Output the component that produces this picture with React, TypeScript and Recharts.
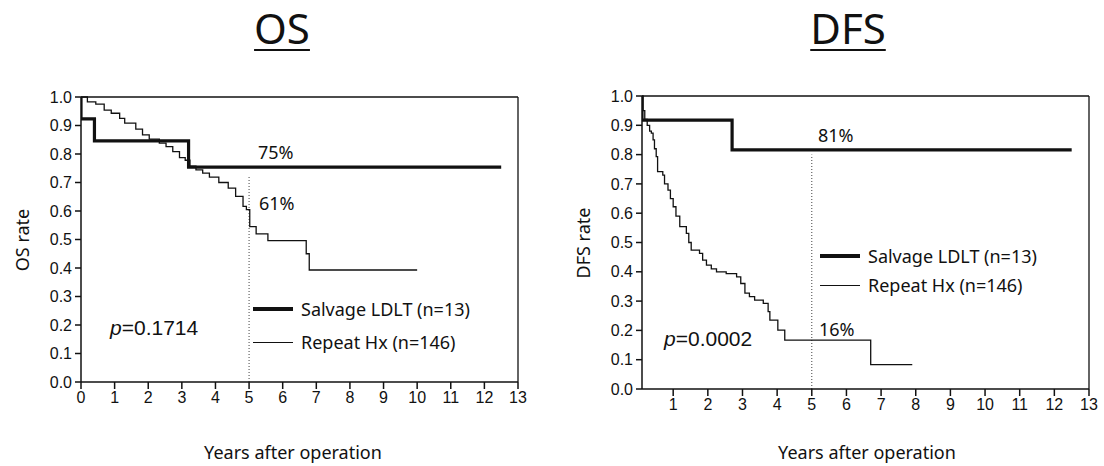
import React from "react";
import { LineChart, Line, XAxis, YAxis, ReferenceLine } from "recharts";

// Kaplan-Meier points: t = years, s = survival after t
const osLdlt = [
  { t: 0, s: 1.0 }, { t: 0, s: 0.923 }, { t: 0.4, s: 0.846 }, { t: 3.2, s: 0.754 }, { t: 12.5, s: 0.754 },
];
const osRepeat = [
  { t: 0, s: 1.0 }, { t: 0.19, s: 0.983 }, { t: 0.44, s: 0.975 }, { t: 0.69, s: 0.954 },
  { t: 0.9, s: 0.943 }, { t: 1.15, s: 0.925 }, { t: 1.3, s: 0.908 }, { t: 1.63, s: 0.887 },
  { t: 1.83, s: 0.867 }, { t: 2.03, s: 0.852 }, { t: 2.33, s: 0.838 }, { t: 2.53, s: 0.826 },
  { t: 2.73, s: 0.808 }, { t: 2.93, s: 0.787 }, { t: 3.1, s: 0.778 }, { t: 3.24, s: 0.757 },
  { t: 3.42, s: 0.744 }, { t: 3.62, s: 0.733 }, { t: 3.82, s: 0.719 }, { t: 4.1, s: 0.7 },
  { t: 4.38, s: 0.68 }, { t: 4.6, s: 0.651 }, { t: 4.82, s: 0.616 }, { t: 4.92, s: 0.605 },
  { t: 5.02, s: 0.545 }, { t: 5.21, s: 0.52 }, { t: 5.56, s: 0.496 }, { t: 6.7, s: 0.45 },
  { t: 6.79, s: 0.393 }, { t: 10, s: 0.393 },
];
const dfsLdlt = [
  { t: 0.1, s: 1.0 }, { t: 0.1, s: 0.918 }, { t: 2.7, s: 0.816 }, { t: 12.5, s: 0.816 },
];
const dfsRepeat = [
  { t: 0.1, s: 1.0 }, { t: 0.13, s: 0.95 }, { t: 0.18, s: 0.92 }, { t: 0.25, s: 0.9 },
  { t: 0.32, s: 0.88 }, { t: 0.37, s: 0.873 }, { t: 0.42, s: 0.85 }, { t: 0.46, s: 0.82 },
  { t: 0.51, s: 0.793 }, { t: 0.55, s: 0.742 }, { t: 0.7, s: 0.73 }, { t: 0.75, s: 0.7 },
  { t: 0.85, s: 0.679 }, { t: 0.92, s: 0.65 }, { t: 1.0, s: 0.622 }, { t: 1.08, s: 0.59 },
  { t: 1.19, s: 0.554 }, { t: 1.38, s: 0.531 }, { t: 1.45, s: 0.5 }, { t: 1.52, s: 0.474 },
  { t: 1.76, s: 0.463 }, { t: 1.85, s: 0.44 }, { t: 1.96, s: 0.423 }, { t: 2.1, s: 0.41 },
  { t: 2.25, s: 0.4 }, { t: 2.53, s: 0.394 }, { t: 2.83, s: 0.383 }, { t: 2.95, s: 0.36 },
  { t: 3.07, s: 0.327 }, { t: 3.2, s: 0.315 }, { t: 3.35, s: 0.303 }, { t: 3.6, s: 0.292 },
  { t: 3.74, s: 0.264 }, { t: 3.79, s: 0.235 }, { t: 4.02, s: 0.201 }, { t: 4.22, s: 0.167 },
  { t: 6.7, s: 0.083 }, { t: 7.9, s: 0.083 },
];

const seriesNames = ["Salvage LDLT (n=13)", "Repeat Hx (n=146)"];
const yTicks = [0, 0.1, 0.2, 0.3, 0.4, 0.5, 0.6, 0.7, 0.8, 0.9, 1.0];
const osXTicks = [0, 1, 2, 3, 4, 5, 6, 7, 8, 9, 10, 11, 12, 13];
const dfsXTicks = [1, 2, 3, 4, 5, 6, 7, 8, 9, 10, 11, 12, 13];

const INK = "#111";
const HAND = "'Noto Sans', 'DejaVu Sans', sans-serif";
const ARIAL = "'Liberation Sans', Arial, sans-serif";

const tickStyle = { fill: INK, fontSize: 16, fontFamily: ARIAL };

function Txt({ x, y, children, size = 18, left = false, rotate = false, font = HAND, style = {} }: any) {
  return (
    <div
      style={{
        position: "absolute",
        left: x,
        top: y,
        transform: `translate(${left ? "0" : "-50%"}, -50%)${rotate ? " rotate(-90deg)" : ""}`,
        fontSize: size,
        fontFamily: font,
        color: INK,
        whiteSpace: "nowrap",
        lineHeight: 1,
        ...style,
      }}
    >
      {children}
    </div>
  );
}

function LegendRows({ x, y1, y2 }: { x: number; y1: number; y2: number }) {
  return (
    <>
      <div style={{ position: "absolute", left: x, top: y1 - 2, width: 40, height: 4, background: INK }} />
      <Txt x={x + 48} y={y1} left>{seriesNames[0]}</Txt>
      <div style={{ position: "absolute", left: x, top: y2, width: 40, height: 1.3, background: INK }} />
      <Txt x={x + 48} y={y2} left>{seriesNames[1]}</Txt>
    </>
  );
}

function KmChart({ thick, thin, xTicks, xMin, dotTop, margin, height }: any) {
  return (
    <LineChart width={552} height={height} margin={margin} style={{ fontFamily: ARIAL, fontSize: 16 }}>
      <XAxis
        type="number"
        dataKey="t"
        domain={[xMin, 13]}
        ticks={xTicks}
        allowDataOverflow
        height={30}
        tickSize={7}
        tickMargin={3}
        fontSize={16}
        tick={tickStyle}
        axisLine={{ stroke: INK, strokeWidth: 1.5 }}
        tickLine={{ stroke: INK, strokeWidth: 1.5 }}
      />
      <YAxis
        type="number"
        domain={[0, 1]}
        ticks={yTicks}
        width={50}
        tickSize={6}
        tickMargin={3}
        fontSize={16}
        tickFormatter={(v: number) => v.toFixed(1)}
        tick={tickStyle}
        axisLine={{ stroke: INK, strokeWidth: 1.5 }}
        tickLine={{ stroke: INK, strokeWidth: 1.5 }}
      />
      <ReferenceLine y={1} stroke={INK} strokeWidth={1.3} />
      <ReferenceLine x={13} stroke={INK} strokeWidth={1.3} />
      <ReferenceLine
        segment={[{ x: 5, y: 0 }, { x: 5, y: dotTop }]}
        stroke={INK}
        strokeWidth={0.8}
        strokeDasharray="1 2"
      />
      <Line data={thin} dataKey="s" type="stepAfter" stroke={INK} strokeWidth={1.3} dot={false} isAnimationActive={false} />
      <Line data={thick} dataKey="s" type="stepAfter" stroke={INK} strokeWidth={3.2} dot={false} isAnimationActive={false} />
    </LineChart>
  );
}

export default function App() {
  return (
    <div style={{ position: "absolute", left: 0, top: 0, width: 1104, height: 466, background: "#fff", overflow: "hidden" }}>
      <div style={{ position: "absolute", left: 0, top: 0 }}>
        <KmChart
          thick={osLdlt}
          thin={osRepeat}
          xTicks={osXTicks}
          xMin={0}
          dotTop={0.72}
          height={466}
          margin={{ top: 97, right: 34, bottom: 54, left: 31 }}
        />
      </div>
      <div style={{ position: "absolute", left: 552, top: 0 }}>
        <KmChart
          thick={dfsLdlt}
          thin={dfsRepeat}
          xTicks={dfsXTicks}
          xMin={0.1}
          dotTop={0.8}
          height={466}
          margin={{ top: 96, right: 15, bottom: 47, left: 40 }}
        />
      </div>

      <Txt x={282} y={28} size={42} style={{ textDecoration: "underline", textDecorationThickness: 2, textUnderlineOffset: 5 }}>OS</Txt>
      <Txt x={848} y={28} size={42} style={{ textDecoration: "underline", textDecorationThickness: 2, textUnderlineOffset: 5 }}>DFS</Txt>

      <Txt x={22} y={240} rotate>OS rate</Txt>
      <Txt x={583} y={243} rotate>DFS rate</Txt>
      <Txt x={293} y={452}>Years after operation</Txt>
      <Txt x={867} y={452}>Years after operation</Txt>

      <Txt x={258} y={152} left>75%</Txt>
      <Txt x={259} y={203} left>61%</Txt>
      <Txt x={818} y={135} left>81%</Txt>
      <Txt x={819} y={329} left>16%</Txt>

      <Txt x={110} y={327} left size={21} font={ARIAL}><i>p</i>=0.1714</Txt>
      <Txt x={664} y={338} left size={21} font={ARIAL}><i>p</i>=0.0002</Txt>

      <LegendRows x={253} y1={309} y2={342} />
      <LegendRows x={820} y1={256} y2={285} />
    </div>
  );
}
